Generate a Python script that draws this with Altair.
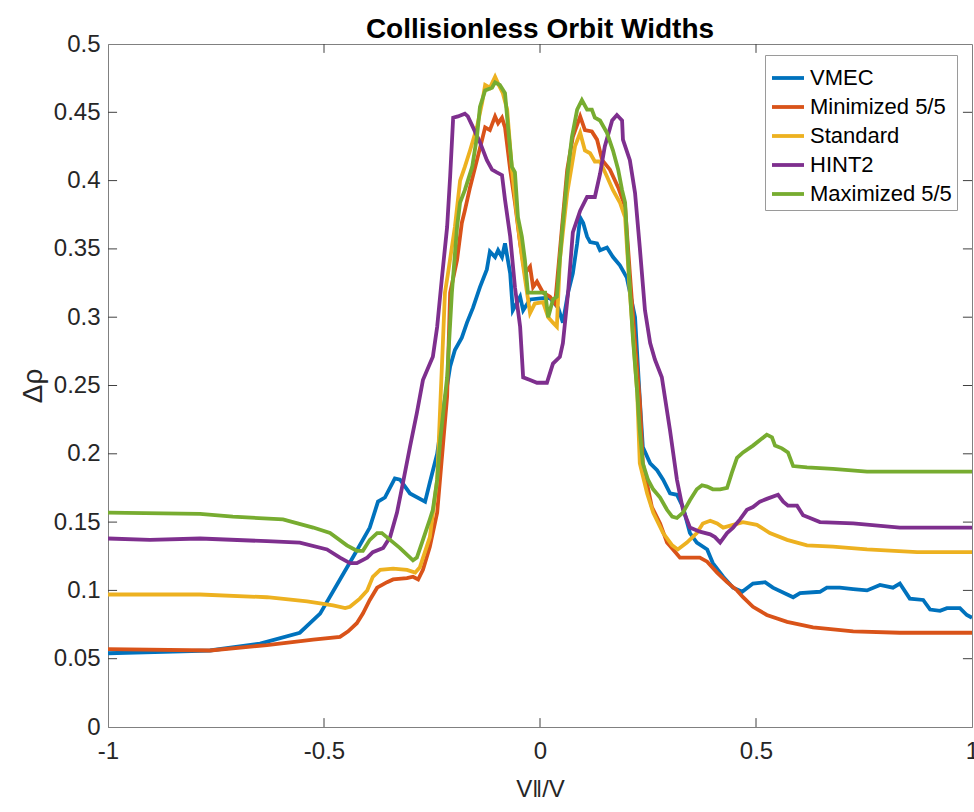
import altair as alt
import pandas as pd

series_names = ["VMEC", "Minimized 5/5", "Standard", "HINT2", "Maximized 5/5"]
series_colors = ["#0072BD", "#D95319", "#EDB120", "#7E2F8E", "#77AC30"]

vmec_x = [-1.0, -0.764, -0.648, -0.556, -0.509, -0.463, -0.428, -0.394, -0.375, -0.359, -0.336, -0.324,
          -0.301, -0.266, -0.255, -0.238, -0.220, -0.208, -0.197, -0.181, -0.169, -0.155, -0.139, -0.123,
          -0.116, -0.104, -0.097, -0.088, -0.081, -0.069, -0.063, -0.046, -0.039, -0.023, 0.007, 0.023,
          0.042, 0.053, 0.065, 0.076, 0.086, 0.093, 0.100, 0.109, 0.116, 0.132, 0.139, 0.155, 0.169, 0.185,
          0.201, 0.220, 0.231, 0.238, 0.255, 0.271, 0.285, 0.301, 0.317, 0.331, 0.347, 0.363, 0.387, 0.400,
          0.424, 0.447, 0.468, 0.493, 0.521, 0.539, 0.586, 0.602, 0.648, 0.664, 0.694, 0.725, 0.757, 0.787,
          0.817, 0.833, 0.856, 0.887, 0.903, 0.926, 0.942, 0.972, 0.988, 1.0]
vmec_y = [0.054, 0.056, 0.061, 0.069, 0.083, 0.108, 0.127, 0.146, 0.165, 0.168, 0.182, 0.181,
          0.171, 0.165, 0.179, 0.200, 0.240, 0.264, 0.276, 0.285, 0.296, 0.307, 0.322, 0.335,
          0.348, 0.344, 0.349, 0.344, 0.354, 0.332, 0.305, 0.315, 0.305, 0.313, 0.314, 0.314,
          0.307, 0.296, 0.318, 0.332, 0.354, 0.373, 0.369, 0.359, 0.355, 0.354, 0.349, 0.351, 0.344, 0.338,
          0.329, 0.300, 0.240, 0.205, 0.193, 0.188, 0.181, 0.171, 0.170, 0.161, 0.142, 0.135, 0.130, 0.120,
          0.110, 0.102, 0.099, 0.105, 0.106, 0.102, 0.095, 0.098, 0.099, 0.102, 0.102, 0.101, 0.100, 0.104,
          0.102, 0.105, 0.094, 0.093, 0.086, 0.085, 0.087, 0.087, 0.082, 0.080]

min_x = [-1.0, -0.764, -0.632, -0.525, -0.463, -0.444, -0.424, -0.410, -0.394, -0.377, -0.354, -0.340,
         -0.308, -0.294, -0.282, -0.271, -0.255, -0.238, -0.225, -0.215, -0.208, -0.192, -0.181, -0.174,
         -0.162, -0.146, -0.134, -0.127, -0.116, -0.104, -0.097, -0.088, -0.081, -0.069, -0.058, -0.046,
         -0.035, -0.023, -0.016, -0.007, 0.007, 0.023, 0.035, 0.051, 0.063, 0.076, 0.093, 0.104, 0.120,
         0.132, 0.144, 0.162, 0.181, 0.197, 0.208, 0.220, 0.231, 0.238, 0.259, 0.278, 0.294, 0.308, 0.324,
         0.340, 0.370, 0.387, 0.410, 0.433, 0.456, 0.470, 0.493, 0.525, 0.572, 0.632, 0.725, 0.833, 1.0]
min_y = [0.057, 0.056, 0.060, 0.064, 0.066, 0.070, 0.076, 0.083, 0.093, 0.102, 0.106, 0.108,
         0.109, 0.110, 0.108, 0.115, 0.132, 0.157, 0.205, 0.242, 0.318, 0.342, 0.369, 0.378,
         0.395, 0.415, 0.430, 0.439, 0.437, 0.447, 0.442, 0.446, 0.439, 0.408, 0.384, 0.354,
         0.332, 0.337, 0.322, 0.326, 0.318, 0.315, 0.310, 0.366, 0.408, 0.432, 0.447, 0.437, 0.436,
         0.430, 0.415, 0.408, 0.395, 0.381, 0.332, 0.281, 0.239, 0.193, 0.161, 0.149, 0.135, 0.130, 0.124,
         0.124, 0.124, 0.121, 0.113, 0.106, 0.100, 0.095, 0.088, 0.082, 0.077, 0.073, 0.070, 0.069, 0.069]

std_x = [-1.0, -0.787, -0.632, -0.539, -0.479, -0.451, -0.440, -0.417, -0.400, -0.387, -0.370, -0.340,
         -0.308, -0.289, -0.278, -0.255, -0.238, -0.220, -0.213, -0.197, -0.185, -0.174, -0.162, -0.146,
         -0.134, -0.127, -0.116, -0.104, -0.097, -0.086, -0.076, -0.065, -0.053, -0.042, -0.030, -0.023,
         -0.012, 0.007, 0.019, 0.030, 0.039, 0.046, 0.063, 0.081, 0.093, 0.104, 0.116, 0.127, 0.139, 0.155,
         0.169, 0.185, 0.197, 0.208, 0.225, 0.231, 0.248, 0.262, 0.285, 0.306, 0.319, 0.340, 0.363, 0.377,
         0.394, 0.410, 0.424, 0.447, 0.470, 0.502, 0.532, 0.572, 0.618, 0.678, 0.757, 0.873, 1.0]
std_y = [0.097, 0.097, 0.095, 0.092, 0.089, 0.087, 0.088, 0.094, 0.100, 0.110, 0.115, 0.116,
         0.115, 0.113, 0.117, 0.139, 0.181, 0.318, 0.332, 0.366, 0.400, 0.410, 0.422, 0.439,
         0.457, 0.470, 0.468, 0.476, 0.471, 0.464, 0.452, 0.408, 0.373, 0.344, 0.318, 0.303,
         0.310, 0.311, 0.300, 0.296, 0.293, 0.342, 0.391, 0.425, 0.435, 0.422, 0.420, 0.414, 0.414, 0.403,
         0.393, 0.384, 0.373, 0.318, 0.245, 0.193, 0.171, 0.157, 0.142, 0.133, 0.130, 0.135, 0.142, 0.149,
         0.151, 0.149, 0.146, 0.148, 0.150, 0.148, 0.142, 0.137, 0.133, 0.132, 0.130, 0.128, 0.128]

hint_x = [-1.0, -0.903, -0.787, -0.632, -0.556, -0.493, -0.463, -0.440, -0.424, -0.400, -0.387, -0.363,
          -0.347, -0.331, -0.317, -0.301, -0.285, -0.271, -0.255, -0.248, -0.238, -0.227, -0.215, -0.208,
          -0.201, -0.190, -0.174, -0.167, -0.155, -0.139, -0.123, -0.111, -0.100, -0.088, -0.081, -0.069,
          -0.058, -0.046, -0.039, -0.023, -0.007, 0.016, 0.030, 0.046, 0.053, 0.065, 0.076, 0.093, 0.109,
          0.127, 0.139, 0.150, 0.167, 0.178, 0.190, 0.192, 0.208, 0.220, 0.231, 0.243, 0.255, 0.266, 0.282,
          0.301, 0.317, 0.331, 0.347, 0.370, 0.394, 0.405, 0.417, 0.433, 0.447, 0.463, 0.479, 0.493, 0.509,
          0.525, 0.551, 0.563, 0.574, 0.595, 0.609, 0.625, 0.648, 0.725, 0.833, 1.0]
hint_y = [0.138, 0.137, 0.138, 0.136, 0.135, 0.130, 0.124, 0.120, 0.120, 0.124, 0.128, 0.131,
          0.139, 0.157, 0.179, 0.205, 0.230, 0.254, 0.266, 0.271, 0.293, 0.329, 0.366, 0.403,
          0.446, 0.447, 0.449, 0.447, 0.439, 0.428, 0.415, 0.408, 0.406, 0.404, 0.386, 0.359,
          0.322, 0.293, 0.256, 0.254, 0.252, 0.252, 0.266, 0.271, 0.281, 0.318, 0.362, 0.378, 0.388,
          0.388, 0.405, 0.425, 0.444, 0.448, 0.444, 0.430, 0.415, 0.391, 0.351, 0.305, 0.281, 0.269, 0.256,
          0.217, 0.181, 0.159, 0.146, 0.143, 0.141, 0.139, 0.135, 0.142, 0.146, 0.152, 0.159, 0.161, 0.165,
          0.167, 0.170, 0.165, 0.162, 0.162, 0.155, 0.153, 0.150, 0.149, 0.146, 0.146]

max_x = [-1.0, -0.787, -0.711, -0.595, -0.525, -0.486, -0.447, -0.424, -0.410, -0.394, -0.377, -0.366,
         -0.347, -0.324, -0.294, -0.285, -0.271, -0.255, -0.248, -0.238, -0.231, -0.215, -0.204, -0.192,
         -0.185, -0.174, -0.157, -0.146, -0.139, -0.127, -0.111, -0.104, -0.093, -0.081, -0.074, -0.065,
         -0.058, -0.051, -0.042, -0.035, -0.028, -0.016, -0.005, 0.012, 0.019, 0.030, 0.039, 0.051, 0.063,
         0.074, 0.086, 0.097, 0.109, 0.120, 0.127, 0.139, 0.155, 0.169, 0.181, 0.190, 0.197, 0.204, 0.215,
         0.225, 0.231, 0.238, 0.250, 0.262, 0.278, 0.294, 0.306, 0.317, 0.331, 0.347, 0.363, 0.375, 0.387,
         0.400, 0.417, 0.433, 0.444, 0.456, 0.470, 0.493, 0.525, 0.537, 0.544, 0.560, 0.574, 0.586, 0.618,
         0.678, 0.757, 0.873, 1.0]
max_y = [0.157, 0.156, 0.154, 0.152, 0.146, 0.142, 0.133, 0.129, 0.129, 0.137, 0.142, 0.142,
         0.137, 0.131, 0.122, 0.124, 0.137, 0.152, 0.159, 0.181, 0.210, 0.256, 0.318, 0.366,
         0.384, 0.393, 0.410, 0.432, 0.454, 0.466, 0.468, 0.472, 0.470, 0.464, 0.439, 0.410,
         0.406, 0.373, 0.359, 0.342, 0.318, 0.318, 0.318, 0.318, 0.300, 0.313, 0.315, 0.362, 0.403,
         0.432, 0.452, 0.459, 0.452, 0.452, 0.446, 0.444, 0.435, 0.422, 0.408, 0.393, 0.384, 0.342, 0.285,
         0.245, 0.217, 0.193, 0.181, 0.174, 0.168, 0.159, 0.154, 0.153, 0.157, 0.166, 0.174, 0.177, 0.176,
         0.174, 0.174, 0.175, 0.186, 0.197, 0.201, 0.206, 0.214, 0.212, 0.206, 0.204, 0.201, 0.191, 0.190,
         0.189, 0.187, 0.187, 0.187]

x_ticks = [-1, -0.5, 0, 0.5, 1]
y_ticks = [0, 0.05, 0.1, 0.15, 0.2, 0.25, 0.3, 0.35, 0.4, 0.45, 0.5]

all_x = [vmec_x, min_x, std_x, hint_x, max_x]
all_y = [vmec_y, min_y, std_y, hint_y, max_y]
rows = []
for name, xs, ys in zip(series_names, all_x, all_y):
    for xv, yv in zip(xs, ys):
        rows.append({"series": name, "v": xv, "dr": yv})
df = pd.DataFrame(rows)

FONT = "Liberation Sans"
AXCOL = "#808080"
TXT = "#262626"

xscale = alt.Scale(domain=[-1, 1], nice=False, zero=False)
yscale = alt.Scale(domain=[0, 0.5], nice=False, zero=False)
color = alt.Color("series:N",
                  scale=alt.Scale(domain=series_names, range=series_colors),
                  legend=alt.Legend(title=None, orient="none", legendX=657, legendY=11,
                                    symbolType="stroke", symbolSize=1024, symbolStrokeWidth=3.8,
                                    labelFontSize=22, labelFont=FONT, labelColor="#000000",
                                    labelOffset=4, rowPadding=0, padding=5,
                                    strokeColor="#9a9a9a", fillColor="#ffffff", labelLimit=300))

minus_fix = "replace(datum.label, '\u2212', '-')"

layers = []
for i, name in enumerate(series_names):
    layers.append(
        alt.Chart(df).transform_filter(alt.datum.series == name).mark_line(strokeWidth=3.8, clip=True).encode(
            x=alt.X("v:Q", scale=xscale,
                    axis=alt.Axis(values=x_ticks, title="V‖/V", format="~g", labelExpr=minus_fix,
                                  tickSize=0, grid=False,
                                  domainColor=AXCOL, labelFontSize=24, labelFont=FONT, labelColor=TXT,
                                  labelPadding=12, titleFontSize=24, titleFont=FONT, titleFontWeight="normal",
                                  titleColor=TXT, titlePadding=14, labelFlush=False)),
            y=alt.Y("dr:Q", scale=yscale,
                    axis=alt.Axis(values=y_ticks, title="Δρ", format="~g", tickSize=0, grid=False,
                                  domainColor=AXCOL, labelFontSize=24, labelFont=FONT, labelColor=TXT,
                                  labelPadding=8, titleFontSize=28, titleFont=FONT, titleFontWeight="normal",
                                  titleColor=TXT, titlePadding=6, labelFlush=False)),
            color=color,
        )
    )

# inward tick marks (MATLAB box style)
xt = pd.DataFrame({"t": x_ticks[1:-1]})
yt = pd.DataFrame({"t": y_ticks[1:-1]})
tick_bottom = alt.Chart(xt).mark_rule(color="#404040", strokeWidth=1).encode(
    x=alt.X("t:Q", scale=xscale), y=alt.datum(0, scale=yscale), y2=alt.datum(0.0065))
tick_top = alt.Chart(xt).mark_rule(color="#404040", strokeWidth=1).encode(
    x=alt.X("t:Q", scale=xscale), y=alt.datum(0.5, scale=yscale), y2=alt.datum(0.4935))
tick_left = alt.Chart(yt).mark_rule(color="#404040", strokeWidth=1).encode(
    y=alt.Y("t:Q", scale=yscale), x=alt.datum(-1, scale=xscale), x2=alt.datum(-0.979))
tick_right = alt.Chart(yt).mark_rule(color="#404040", strokeWidth=1).encode(
    y=alt.Y("t:Q", scale=yscale), x=alt.datum(1, scale=xscale), x2=alt.datum(0.979))

chart = alt.layer(*layers, tick_bottom, tick_top, tick_left, tick_right).properties(
    width=864, height=683,
    title=alt.TitleParams("Collisionless Orbit Widths", font=FONT, fontSize=28, fontWeight="bold",
                          color="#000000", anchor="middle", offset=-12),
    autosize=alt.AutoSizeParams(type="none"),
    padding={"left": 108, "top": 44, "right": 2, "bottom": 85},
    background="#ffffff",
).configure_view(stroke=AXCOL, strokeWidth=1).configure_axis(domainWidth=1)

chart.save("out.html", embed_options={"renderer": "svg", "actions": False})
